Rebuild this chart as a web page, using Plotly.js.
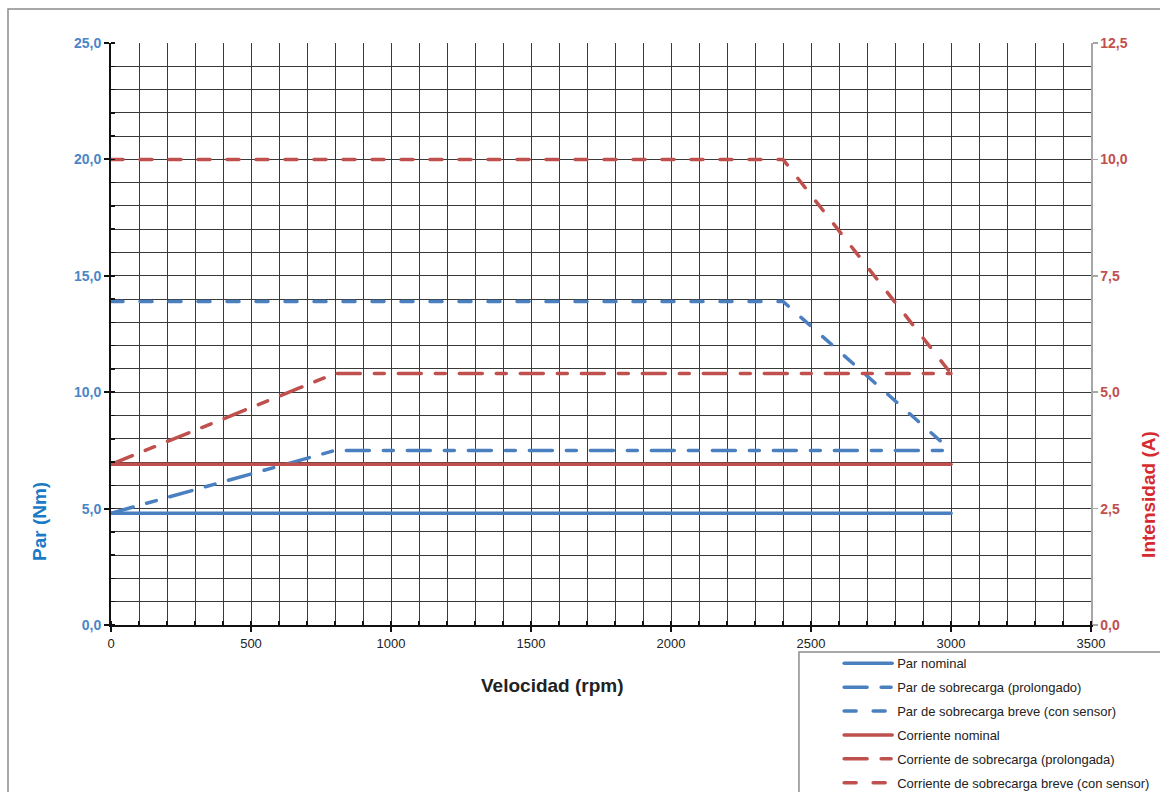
<!DOCTYPE html>
<html>
<head>
<meta charset="utf-8">
<script src="https://cdn.plot.ly/plotly-3.0.1.min.js"></script>
<style>
html,body{margin:0;padding:0;background:#fff;}
#chart{width:1160px;height:792px;}
.js-line{stroke-linecap:round;}
.legendlines path{stroke-linecap:round;}
</style>
</head>
<body>
<div id="chart"></div>
<script>
// Speed (rpm) breakpoints
const rpmNominal = [0, 3000];
const rpmProlonged = [0, 800, 3000];
const rpmShort = [0, 2400, 3000];

// Torque (Nm)
const parNominal = [4.8, 4.8];
const parProlongado = [4.8, 7.5, 7.5];
const parBreve = [13.9, 13.9, 7.5];

// Current (A)
const corrNominal = [3.45, 3.45];
const corrProlongada = [3.45, 5.4, 5.4];
const corrBreve = [10.0, 10.0, 5.4];

const names = [
  'Par nominal',
  'Par de sobrecarga (prolongado)',
  'Par de sobrecarga breve (con sensor)',
  'Corriente nominal',
  'Corriente de sobrecarga (prolongada)',
  'Corriente de sobrecarga breve (con sensor)'
];

const BLUE = '#4a7fc0';
const RED = '#c0504d';
const LW = 3.5;
const DASH_LONG = '23px,14px,10px,14px';
const DASH_SHORT = '12px,17px';

function tr(x, y, name, color, dash, yaxis, g) {
  return {x: x, y: y, name: name, type: 'scatter', mode: 'lines', yaxis: yaxis,
    legendgroup: g, line: {color: color, width: LW, dash: dash}, hoverinfo: 'skip'};
}

const data = [
  tr(rpmNominal, parNominal, names[0], BLUE, 'solid', 'y', 'g1'),
  tr(rpmProlonged, parProlongado, names[1], BLUE, DASH_LONG, 'y', 'g2'),
  tr(rpmShort, parBreve, names[2], BLUE, DASH_SHORT, 'y', 'g3'),
  tr(rpmNominal, corrNominal, names[3], RED, 'solid', 'y2', 'g4'),
  tr(rpmProlonged, corrProlongada, names[4], RED, DASH_LONG, 'y2', 'g5'),
  tr(rpmShort, corrBreve, names[5], RED, DASH_SHORT, 'y2', 'g6')
];

const FONT = 'Liberation Sans, Arial, sans-serif';
const GRID = '#3a3a3a';

const layout = {
  width: 1160, height: 792,
  margin: {l: 111, r: 69, t: 43, b: 167, pad: 0, autoexpand: false},
  paper_bgcolor: '#fff', plot_bgcolor: '#fff',
  separators: ',.',
  font: {family: FONT, size: 12, color: '#222'},
  showlegend: true,
  legend: {
    x: 0.743, xanchor: 'left', y: -0.04, yanchor: 'top',
    bgcolor: 'rgba(0,0,0,0)', borderwidth: 0,
    font: {family: FONT, size: 13, color: '#222'},
    traceorder: 'grouped', tracegroupgap: 4, itemwidth: 48
  },
  xaxis: {
    range: [0, 3500], dtick: 500, tick0: 0, tickformat: 'd',
    showgrid: true, gridcolor: GRID, gridwidth: 1,
    showline: true, linecolor: '#111', linewidth: 2,
    ticks: 'outside', ticklen: 5, tickcolor: '#111', tickwidth: 2,
    zeroline: false, fixedrange: true,
    tickfont: {family: FONT, size: 13, color: '#222'},
    minor: {dtick: 100, showgrid: true, gridcolor: GRID, gridwidth: 1,
      ticks: 'inside', ticklen: 4, tickcolor: '#111', tickwidth: 1.5}
  },
  yaxis: {
    range: [0, 25], dtick: 5, tick0: 0, tickformat: '.1f',
    showgrid: true, gridcolor: GRID, gridwidth: 1,
    showline: true, linecolor: '#111', linewidth: 2,
    ticks: 'outside', ticklen: 5, tickcolor: '#111', tickwidth: 2,
    zeroline: false, fixedrange: true,
    tickfont: {family: FONT, size: 14, color: '#4a86c8', weight: 'bold'},
    minor: {dtick: 1, showgrid: true, gridcolor: GRID, gridwidth: 1,
      ticks: 'inside', ticklen: 4, tickcolor: '#111', tickwidth: 1.5}
  },
  yaxis2: {
    range: [0, 12.5], dtick: 2.5, tick0: 0, tickformat: '.1f',
    overlaying: 'y', side: 'right', showgrid: false,
    showline: true, linecolor: '#a6a6a6', linewidth: 1.5,
    ticks: 'outside', ticklen: 5, tickcolor: '#a6a6a6', tickwidth: 1.5,
    zeroline: false, fixedrange: true,
    tickfont: {family: FONT, size: 14, color: '#c0504d', weight: 'bold'}
  },
  annotations: [
    {text: '<b>Velocidad (rpm)</b>', xref: 'paper', yref: 'paper', x: 0.451, y: -0.1048,
      xanchor: 'center', yanchor: 'middle', showarrow: false,
      font: {family: FONT, size: 19, color: '#222'}},
    {text: '<b>Par (Nm)</b>', xref: 'paper', yref: 'paper', x: -0.0724, y: 0.177,
      xanchor: 'center', yanchor: 'middle', showarrow: false, textangle: -90,
      font: {family: FONT, size: 19, color: '#1a7ac6'}},
    {text: '<b>Intensidad (A)</b>', xref: 'paper', yref: 'paper', x: 1.058, y: 0.225,
      xanchor: 'center', yanchor: 'middle', showarrow: false, textangle: -90,
      font: {family: FONT, size: 19, color: '#d52b30'}}
  ],
  shapes: [
    {type: 'rect', xref: 'paper', yref: 'paper', x0: -0.1051, y0: 1.0584, x1: 1.2, y1: -0.5,
      line: {color: '#8c8c8c', width: 1.5}, fillcolor: 'rgba(0,0,0,0)', layer: 'below'},
    {type: 'rect', xref: 'paper', yref: 'paper', x0: 0.702, y0: -0.0464, x1: 1.2, y1: -0.5,
      line: {color: '#8c8c8c', width: 1.5}, fillcolor: 'rgba(0,0,0,0)', layer: 'below'}
  ]
};

Plotly.newPlot('chart', data, layout, {staticPlot: true, displayModeBar: false});
</script>
</body>
</html>
